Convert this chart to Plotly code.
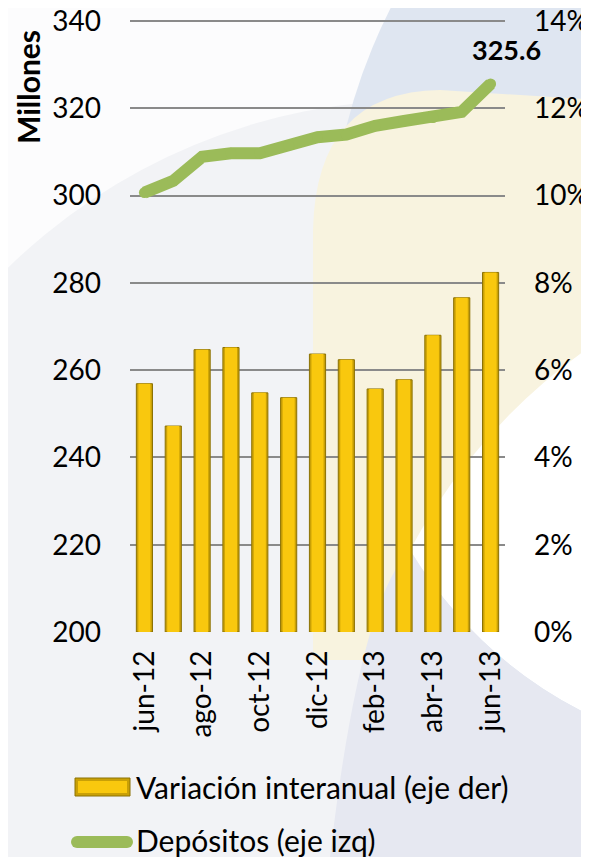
import plotly.graph_objects as go

# data
months = ["jun-12", "jul-12", "ago-12", "sep-12", "oct-12", "nov-12", "dic-12",
          "ene-13", "feb-13", "mar-13", "abr-13", "may-13", "jun-13"]
tick_months = ["jun-12", "ago-12", "oct-12", "dic-12", "feb-13", "abr-13", "jun-13"]
depositos = [300.7, 303.4, 308.9, 309.7, 309.7, 311.5, 313.4,
             314.0, 316.0, 317.1, 317.9, 319.2, 325.6]
variacion = [0.0569, 0.0472, 0.0647, 0.0652, 0.0548, 0.0537, 0.0637,
             0.0624, 0.0557, 0.0578, 0.0680, 0.0766, 0.0824]

FONT = "Lato"
OFF = 8                            # page body margin of the html
W, H = 589 - OFF, 857 - OFF
L, R, T, B = 130, 505, 20, 632     # plot area in screen pixels
Y_TOP = 340.25                     # a hair above 340 so the top gridline is drawn


def px(x, y):
    """screen pixel position -> paper coords string"""
    return "%.4f,%.4f" % ((x - L) / (R - L), (B - y) / (B - T))


def pxx(x):
    return (x - L) / (R - L)


def pxy(y):
    return (B - y) / (B - T)


fig = go.Figure()

# bars: darker outer bar + bright inner bar for the bevel look
fig.add_trace(go.Bar(
    x=months, y=variacion, yaxis="y2", width=0.56,
    marker=dict(color="#C9A006", line=dict(color="#8C7204", width=1)),
    showlegend=False))
fig.add_trace(go.Bar(
    x=months, y=variacion, yaxis="y2", width=0.42,
    marker=dict(color="#F9C80E", line=dict(width=0)),
    showlegend=False, hoverinfo="skip"))

fig.add_trace(go.Scatter(
    x=months, y=depositos, mode="lines+markers",
    line=dict(color="#9BBB59", width=12),
    marker=dict(color="#9BBB59", size=11),
    showlegend=False))

# background decoration
shapes = [
    dict(type="circle", xref="paper", yref="paper", layer="below",
         x0=pxx(420 - 590), x1=pxx(420 + 590), y0=pxy(690 + 590), y1=pxy(690 - 590),
         fillcolor="#f2f3f6", line=dict(width=0)),
    dict(type="circle", xref="paper", yref="paper", layer="below",
         x0=pxx(900 - 571), x1=pxx(900 + 571), y0=pxy(266 + 571), y1=pxy(266 - 571),
         fillcolor="#dfe6f1", line=dict(width=0)),
    dict(type="path", xref="paper", yref="paper", layer="below",
         path="M%s L%s Q%s %s L%s L%s Q%s %s Z" % (
             px(313, 660), px(313, 230), px(316, 92), px(440, 90), px(600, 100),
             px(600, 340), px(470, 440), px(385, 660)),
         fillcolor="#f8f3df", line=dict(width=0)),
    dict(type="path", xref="paper", yref="paper", layer="below",
         path="M%s Q%s %s Q%s %s Z" % (
             px(600, 340), px(480, 420), px(410, 550), px(480, 665), px(600, 720)),
         fillcolor="#ffffff", line=dict(width=0)),
    dict(type="path", xref="paper", yref="paper", layer="below",
         path="M%s Q%s %s Q%s %s L%s L%s Z" % (
             px(600, 720), px(480, 665), px(410, 550), px(360, 600), px(330, 857),
             px(600, 857), px(600, 720)),
         fillcolor="#e6e8f1", line=dict(width=0)),
    # legend symbols
    dict(type="rect", xref="paper", yref="paper",
         x0=pxx(75), x1=pxx(130), y0=pxy(796), y1=pxy(778),
         fillcolor="#C9A006", line=dict(color="#8C7204", width=1)),
    dict(type="rect", xref="paper", yref="paper",
         x0=pxx(78), x1=pxx(127), y0=pxy(793), y1=pxy(781),
         fillcolor="#F9C80E", line=dict(width=0)),
    dict(type="line", xref="paper", yref="paper",
         x0=pxx(77), x1=pxx(127), y0=pxy(842), y1=pxy(842),
         line=dict(color="#9BBB59", width=12)),
    dict(type="circle", xref="paper", yref="paper",
         x0=pxx(71), x1=pxx(83), y0=pxy(848), y1=pxy(836),
         fillcolor="#9BBB59", line=dict(width=0)),
    dict(type="circle", xref="paper", yref="paper",
         x0=pxx(121), x1=pxx(133), y0=pxy(848), y1=pxy(836),
         fillcolor="#9BBB59", line=dict(width=0)),
]

annotations = [
    dict(text="<b>Millones</b>", xref="paper", yref="paper", x=pxx(28), y=pxy(87),
         xanchor="center", yanchor="middle",
         textangle=-90, showarrow=False, font=dict(size=30, family=FONT, color="black")),
    dict(text="<b>325.6</b>", x="jun-13", y=depositos[-1], xref="x", yref="y",
         xshift=16, yshift=34, showarrow=False,
         font=dict(size=27, family=FONT, color="black")),
    dict(text="Variación interanual (eje der)", xref="paper", yref="paper",
         x=pxx(134), y=pxy(787), xanchor="left", yanchor="middle", showarrow=False,
         font=dict(size=30, family=FONT, color="black")),
    dict(text="Depósitos (eje izq)", xref="paper", yref="paper",
         x=pxx(134), y=pxy(840), xanchor="left", yanchor="middle", showarrow=False,
         font=dict(size=30, family=FONT, color="black")),
]

fig.update_layout(
    width=W, height=H,
    margin=dict(l=L - OFF, r=W - (R - OFF), t=T - OFF, b=H - (B - OFF),
                autoexpand=False),
    paper_bgcolor="#fcfcfd",
    plot_bgcolor="rgba(0,0,0,0)",
    font=dict(family=FONT, size=28, color="black"),
    showlegend=False,
    barmode="overlay",
    shapes=shapes,
    annotations=annotations,
    xaxis=dict(type="category", categoryorder="array", categoryarray=months,
               range=[-0.5, 12.5], tickvals=tick_months, tickangle=-90,
               showgrid=False, zeroline=False, showline=False, ticks="",
               automargin=False,
               ticklabelstandoff=12, tickfont=dict(size=28)),
    yaxis=dict(range=[200, Y_TOP], tick0=200, dtick=20, showgrid=True,
               gridcolor="#8a8a8a", gridwidth=1.5, zeroline=False, showline=False,
               ticks="", automargin=False, ticklabeloverflow="allow",
               ticklabelstandoff=28, tickfont=dict(size=28)),
    yaxis2=dict(overlaying="y", side="right",
                range=[0, 0.14 * (Y_TOP - 200) / 140], tick0=0, dtick=0.02,
                tickformat=".0%", showgrid=False, zeroline=False, showline=False,
                ticks="", automargin=False, ticklabeloverflow="allow",
                ticklabelstandoff=28, tickfont=dict(size=28)),
)

fig.write_html("out.html")
